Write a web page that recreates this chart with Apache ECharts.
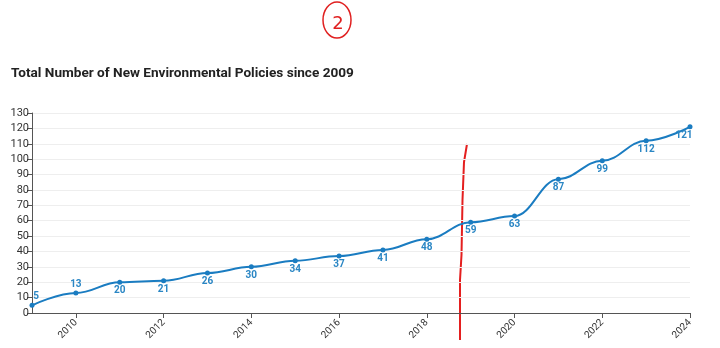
<!DOCTYPE html>
<html>
<head>
<meta charset="utf-8">
<script src="https://cdn.jsdelivr.net/npm/echarts@6/dist/echarts.min.js"></script>
<style>
html,body{margin:0;padding:0;background:#fff;}
#chart{width:720px;height:348px;}
</style>
</head>
<body>
<div id="chart"></div>
<script>
const titleText = 'Total Number of New Environmental Policies since 2009';
const years = ['2009','2010','2011','2012','2013','2014','2015','2016','2017','2018','2019','2020','2021','2022','2023','2024'];
const policies = [5,13,20,21,26,30,34,37,41,48,59,63,87,99,112,121];
const labelsAbove = ['2009','2010'];

const chart = echarts.init(document.getElementById('chart'), null, {renderer:'canvas'});
const labelColor = '#2a86c4';
const seriesData = policies.map((v, i) => {
  const item = {value: v};
  if (labelsAbove.includes(years[i])) {
    item.label = {position: 'top', distance: 1, offset: i === 0 ? [4, 0] : [0, 0]};
  }
  if (i === policies.length - 1) {
    item.label = {position: 'bottom', distance: 1, offset: [-6, 0]};
  }
  return item;
});

chart.setOption({
  animation: false,
  textStyle: {fontFamily: 'Roboto'},
  title: {
    text: titleText,
    left: 6, top: 62,
    textStyle: {fontFamily: 'Roboto', fontSize: 13.6, fontWeight: 'bold', color: '#222'}
  },
  grid: {left: 32, right: 30, top: 113, bottom: 35},
  xAxis: {
    type: 'category',
    data: years,
    boundaryGap: false,
    axisLine: {lineStyle: {color: '#555'}},
    axisTick: {length: 5, interval: (i) => i % 2 === 1, lineStyle: {color: '#555'}},
    axisLabel: {interval: (i) => i % 2 === 1, rotate: 45, color: '#333', fontSize: 10, margin: 8},
    splitLine: {show: false}
  },
  yAxis: {
    type: 'value',
    min: 0, max: 130, interval: 10,
    axisLine: {show: true, lineStyle: {color: '#555'}},
    axisTick: {show: true, length: 5, lineStyle: {color: '#555'}},
    axisLabel: {color: '#333', fontSize: 11, margin: 3},
    splitLine: {lineStyle: {color: '#eee'}}
  },
  series: [{
    type: 'line',
    data: seriesData,
    smooth: 0.4,
    smoothMonotone: 'x',
    symbol: 'circle',
    symbolSize: 5,
    lineStyle: {color: '#1a7cc1', width: 2},
    itemStyle: {color: '#1a7cc1'},
    label: {
      show: true, position: 'bottom', distance: 1,
      color: labelColor, fontSize: 10, fontWeight: 'bold', fontFamily: 'Roboto'
    }
  }],
  graphic: [
    {type: 'ellipse', shape: {cx: 337, cy: 20, rx: 14, ry: 18}, style: {fill: 'none', stroke: '#e02020', lineWidth: 1.5}},
    {type: 'text', x: 338, y: 24, style: {text: '2', fill: '#e02020', font: '18px "DejaVu Sans"', align: 'center', verticalAlign: 'middle'}},
    {type: 'polyline', shape: {points: [[467,144],[464,162],[462.5,200],[461.5,255],[460,280],[460,340]]}, style: {stroke: '#e41f1f', lineWidth: 2, fill: 'none', lineDash: null}}
  ]
});
</script>
</body>
</html>
